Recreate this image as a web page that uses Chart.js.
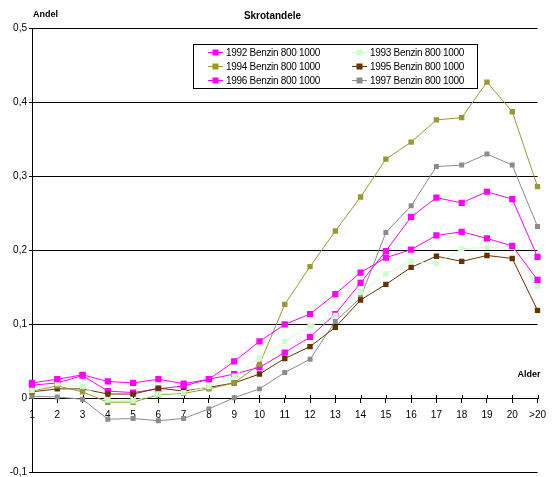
<!DOCTYPE html>
<html>
<head>
<meta charset="utf-8">
<script src="https://cdn.jsdelivr.net/npm/chart.js@4/dist/chart.umd.min.js"></script>
<style>
  html, body { margin: 0; padding: 0; background: #fff; }
  #wrap { width: 553px; height: 477px; }
</style>
</head>
<body>
<div id="wrap"><canvas id="c" width="553" height="477"></canvas></div>
<script>
// Age categories on the x axis
const categories = ['1','2','3','4','5','6','7','8','9','10','11','12','13','14','15','16','17','18','19','20','>20'];

// Scrap share per age, one array per registration year
const s1992 = [0.021, 0.026, 0.032, 0.023, 0.021, 0.026, 0.020, 0.026, 0.050, 0.077, 0.100, 0.114, 0.141, 0.170, 0.190, 0.201, 0.220, 0.225, 0.216, 0.206, 0.160];
const s1993 = [0.011, 0.020, 0.016, -0.002, -0.003, 0.006, 0.008, 0.016, 0.030, 0.055, 0.077, 0.098, 0.112, 0.144, 0.168, 0.185, 0.182, 0.202, 0.204, 0.205, 0.151];
const s1994 = [0.010, 0.017, 0.009, -0.005, -0.005, 0.005, 0.007, 0.013, 0.021, 0.046, 0.127, 0.178, 0.226, 0.272, 0.323, 0.346, 0.376, 0.379, 0.427, 0.387, 0.286];
const s1995 = [0.009, 0.013, 0.013, 0.006, 0.006, 0.014, 0.010, 0.015, 0.021, 0.033, 0.054, 0.070, 0.096, 0.133, 0.154, 0.177, 0.192, 0.185, 0.193, 0.189, 0.119];
const s1996 = [0.018, 0.021, 0.031, 0.010, 0.008, 0.013, 0.017, 0.026, 0.033, 0.042, 0.062, 0.083, 0.114, 0.156, 0.199, 0.245, 0.271, 0.264, 0.279, 0.269, 0.191];
const s1997 = [0.003, 0.002, -0.001, -0.028, -0.027, -0.030, -0.027, -0.014, 0.001, 0.013, 0.035, 0.053, 0.104, 0.136, 0.224, 0.260, 0.313, 0.315, 0.330, 0.315, 0.232];

const seriesNames = ['1992 Benzin 800 1000', '1993 Benzin 800 1000', '1994 Benzin 800 1000',
                     '1995 Benzin 800 1000', '1996 Benzin 800 1000', '1997 Benzin 800 1000'];
const seriesValues = [s1992, s1993, s1994, s1995, s1996, s1997];
const seriesColors = ['#FF00FF', '#CCFFCC', '#999933', '#663300', '#FF00FF', '#8C8C8C'];
const markerRadius = [4.4, 3.8, 3.8, 3.8, 4.4, 3.5];

const FONT = "'Liberation Sans', Arial, sans-serif";
Chart.defaults.font.family = FONT;
Chart.defaults.font.size = 10;
Chart.defaults.color = '#000';

const datasets = seriesValues.map((vals, i) => ({
  label: seriesNames[i],
  data: vals,
  borderColor: seriesColors[i],
  backgroundColor: seriesColors[i],
  borderWidth: 1,
  pointStyle: 'rect',
  pointRadius: markerRadius[i],
  pointBorderWidth: 0,
  pointHoverRadius: markerRadius[i],
  tension: 0,
  fill: false
}));

// Tick marks on the category axis extend above the axis line too
const crossTicks = {
  id: 'crossTicks',
  beforeDatasetsDraw(chart) {
    const { ctx } = chart;
    const xs = chart.scales.x;
    const y0 = Math.round(chart.scales.y.getPixelForValue(0));
    ctx.save();
    ctx.strokeStyle = '#000';
    ctx.lineWidth = 1;
    ctx.beginPath();
    xs.ticks.forEach((t, i) => {
      const px = Math.round(xs.getPixelForTick(i)) + 0.5;
      ctx.moveTo(px, y0 - 4);
      ctx.lineTo(px, y0);
    });
    ctx.stroke();
    ctx.restore();
  }
};

// Axis captions and the boxed two-column legend inside the plot
const captions = {
  id: 'captions',
  afterDraw(chart) {
    const { ctx, chartArea } = chart;
    ctx.save();
    ctx.fillStyle = '#000';
    ctx.font = 'bold 9px ' + FONT;
    ctx.textBaseline = 'middle';
    ctx.textAlign = 'left';
    ctx.fillText('Andel', chartArea.left + 1, 15);
    ctx.textAlign = 'right';
    ctx.fillText('Alder', chartArea.right + 3, 375);

    // legend box
    const bx = 193.5, by = 44.5, bw = 284, bh = 44;
    ctx.fillStyle = '#fff';
    ctx.fillRect(bx, by, bw, bh);
    ctx.strokeStyle = '#000';
    ctx.lineWidth = 1;
    ctx.strokeRect(bx, by, bw, bh);

    const colLineX = [208, 352];
    const rowY = [52.5, 66.5, 80.5];
    ctx.font = '10px ' + FONT;
    ctx.textAlign = 'left';
    if ('letterSpacing' in ctx) ctx.letterSpacing = '-0.3px';
    chart.data.datasets.forEach((ds, i) => {
      const col = i % 2, row = Math.floor(i / 2);
      const lx = colLineX[col], ly = rowY[row];
      ctx.strokeStyle = ds.borderColor;
      ctx.beginPath();
      ctx.moveTo(lx, ly);
      ctx.lineTo(lx + 15, ly);
      ctx.stroke();
      ctx.fillStyle = ds.backgroundColor;
      ctx.fillRect(lx + 4.5, ly - 3, 6, 6);
      ctx.fillStyle = '#000';
      ctx.fillText(ds.label, lx + 18, ly + 0.5);
    });
    ctx.restore();
  }
};

new Chart(document.getElementById('c'), {
  type: 'line',
  data: { labels: categories, datasets },
  options: {
    responsive: false,
    animation: false,
    layout: { padding: { left: 0, right: 8, top: 0, bottom: 2 } },
    plugins: {
      legend: { display: false },
      tooltip: { enabled: false },
      title: {
        display: true,
        text: 'Skrotandele',
        color: '#000',
        font: { size: 10, weight: 'bold' },
        padding: { top: 10, bottom: 6 }
      }
    },
    scales: {
      x: {
        type: 'category',
        position: { y: 0 },
        offset: false,
        grid: { display: true, drawOnChartArea: false, drawTicks: true, tickLength: 4, color: '#000' },
        border: { display: true, color: '#000', width: 1 },
        ticks: { padding: 7, maxRotation: 0, autoSkip: false, font: { size: 10 } }
      },
      y: {
        min: -0.1,
        max: 0.5,
        afterFit(scale) {
          scale.width = 32;
          scale.paddingTop = 0;
          scale.paddingBottom = 0;
        },
        grid: { color: '#000', lineWidth: 1, drawTicks: true, tickLength: 3 },
        border: { display: true, color: '#000', width: 1 },
        ticks: {
          stepSize: 0.1,
          padding: 2,
          font: { size: 10 },
          callback: (v) => {
            const r = Math.round(v * 10) / 10;
            return r === 0 ? '0' : r.toFixed(1).replace('.', ',');
          }
        }
      }
    }
  },
  plugins: [crossTicks, captions]
});
</script>
</body>
</html>
